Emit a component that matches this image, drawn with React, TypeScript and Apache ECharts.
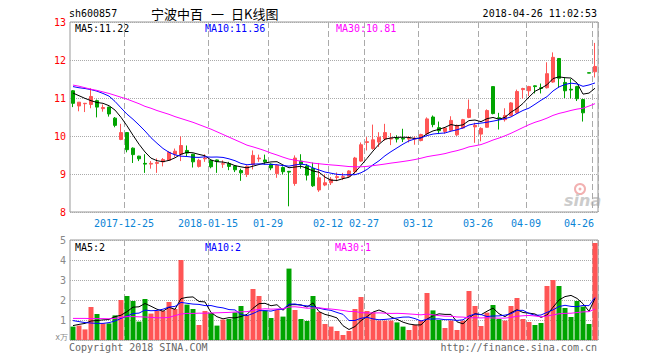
import React, { useEffect, useRef } from 'react';
import * as echarts from 'echarts';

const dates = [
  '2017-12-12','2017-12-13','2017-12-14','2017-12-15','2017-12-18','2017-12-19','2017-12-20','2017-12-21','2017-12-22','2017-12-25',
  '2017-12-26','2017-12-27','2017-12-28','2017-12-29','2018-01-02','2018-01-03','2018-01-04','2018-01-05','2018-01-08','2018-01-09',
  '2018-01-10','2018-01-11','2018-01-12','2018-01-15','2018-01-16','2018-01-17','2018-01-18','2018-01-19','2018-01-22','2018-01-23',
  '2018-01-24','2018-01-25','2018-01-26','2018-01-29','2018-01-30','2018-01-31','2018-02-01','2018-02-02','2018-02-05','2018-02-06',
  '2018-02-07','2018-02-08','2018-02-09','2018-02-12','2018-02-13','2018-02-14','2018-02-22','2018-02-23','2018-02-26','2018-02-27',
  '2018-02-28','2018-03-01','2018-03-02','2018-03-05','2018-03-06','2018-03-07','2018-03-08','2018-03-09','2018-03-12','2018-03-13',
  '2018-03-14','2018-03-15','2018-03-16','2018-03-19','2018-03-20','2018-03-21','2018-03-22','2018-03-23','2018-03-26','2018-03-27',
  '2018-03-28','2018-03-29','2018-03-30','2018-04-02','2018-04-03','2018-04-04','2018-04-09','2018-04-10','2018-04-11','2018-04-12',
  '2018-04-13','2018-04-16','2018-04-17','2018-04-18','2018-04-19','2018-04-20','2018-04-23','2018-04-26',
];

const opens = [
  11.19,10.79,10.85,10.83,10.93,10.72,10.76,10.47,9.91,10.09,
  9.68,9.47,9.28,9.26,9.28,9.32,9.36,9.52,9.52,9.62,
  9.52,9.20,9.40,9.36,9.37,9.26,9.27,9.21,9.09,8.99,
  9.25,9.40,9.37,9.26,9.01,9.17,9.07,8.75,9.34,9.21,
  9.15,8.58,8.71,8.77,8.91,8.91,8.94,9.06,9.34,9.83,
  9.67,9.84,9.92,9.92,9.94,9.94,9.92,9.92,9.88,10.06,
  10.50,10.22,10.12,10.15,10.03,10.21,10.49,10.24,10.05,10.23,
  11.30,10.48,10.43,10.54,10.61,11.22,11.19,11.32,11.27,11.27,
  11.42,12.04,11.41,11.23,11.30,10.96,11.665,11.69,
];
const closes = [
  10.86,10.89,10.86,11.04,10.76,10.75,10.58,10.28,10.09,9.64,
  9.51,9.40,9.26,9.28,9.30,9.38,9.57,9.60,9.75,9.55,
  9.32,9.36,9.42,9.19,9.33,9.27,9.20,9.11,9.03,9.20,
  9.49,9.42,9.32,9.16,9.23,9.06,9.05,9.42,9.26,8.97,
  8.69,8.90,8.77,8.86,8.93,8.93,9.08,9.42,9.77,9.85,
  9.90,9.97,10.09,9.94,9.92,9.92,9.94,9.94,10.04,10.45,
  10.30,10.14,10.21,10.41,10.28,10.43,10.70,10.28,10.20,10.67,
  10.59,10.46,10.54,10.87,11.17,11.25,11.30,11.30,11.25,11.64,
  12.07,11.52,11.19,11.21,10.98,10.61,11.655,11.83,
];
const lows = [
  10.76,10.65,10.63,10.73,10.49,10.64,10.51,10.23,9.89,9.57,
  9.29,9.34,9.03,9.14,9.03,9.20,9.35,9.45,9.34,9.45,
  9.17,9.17,9.32,9.15,9.03,9.16,9.10,9.05,8.82,8.92,
  9.12,9.32,9.25,9.10,8.90,8.99,8.15,8.69,9.14,8.83,
  8.66,8.53,8.68,8.71,8.81,8.84,8.92,9.01,9.32,9.62,
  9.64,9.71,9.88,9.76,9.83,9.84,9.83,9.77,9.86,10.03,
  10.23,10.05,10.06,10.12,10.00,10.19,10.47,9.82,9.86,10.22,
  10.57,10.17,10.38,10.52,10.58,10.98,11.05,11.12,11.12,11.25,
  11.40,11.27,11.00,10.99,10.92,10.38,11.655,11.54,
];
const highs = [
  11.21,10.89,10.87,11.26,10.96,10.83,10.77,10.50,10.32,10.10,
  9.70,9.48,9.52,9.34,9.41,9.42,9.60,9.67,9.99,9.75,
  9.53,9.40,9.52,9.37,9.38,9.36,9.32,9.22,9.14,9.23,
  9.62,9.51,9.51,9.28,9.26,9.20,9.08,9.49,9.52,9.26,
  9.30,9.29,8.99,8.92,9.04,9.03,9.10,9.45,9.83,9.97,
  10.30,10.10,10.32,10.08,10.02,10.19,10.00,9.99,10.06,10.49,
  10.54,10.38,10.23,10.52,10.30,10.45,10.96,10.35,10.23,10.70,
  11.31,10.61,10.73,10.89,11.22,11.27,11.32,11.33,11.38,11.94,
  12.20,12.05,11.54,11.50,11.32,10.98,11.665,12.45,
];
// volume, in 万 lots
const volumes = [
  0.67,0.72,0.53,1.65,1.30,0.83,0.83,1.23,2.00,2.20,
  1.95,0.92,2.05,1.32,1.45,1.45,1.90,1.55,4.00,1.77,
  1.55,0.75,1.45,1.35,0.72,1.02,1.05,1.38,1.70,1.25,
  2.55,2.20,1.47,1.10,1.50,1.17,3.57,1.50,1.05,0.95,
  2.20,1.40,0.80,0.67,0.45,0.25,0.45,1.55,2.15,1.45,
  1.38,0.97,0.97,0.97,0.88,0.67,0.50,0.75,0.97,2.35,
  1.48,1.00,0.60,0.97,0.50,0.97,2.45,1.70,0.70,1.37,
  1.75,1.05,0.97,1.70,2.10,1.05,0.90,0.75,0.85,2.70,
  3.00,2.70,1.60,1.15,1.95,1.67,0.80,4.85,
];

// moving-average values at the left edge (their windows start before the chart)
const priceMa5Head = [11.13, 11.06, 10.99, 10.93];
const priceMa10Head = [11.30, 11.27, 11.25, 11.22, 11.18, 11.12, 11.05, 10.91, 10.74];
const priceMa30Head = [
  11.34,11.31,11.27,11.23,11.20,11.16,11.12,11.07,11.02,10.97,
  10.91,10.85,10.78,10.73,10.67,10.62,10.57,10.51,10.46,10.41,
  10.36,10.30,10.24,10.18,10.11,10.04,9.97,9.90,9.83,
];
const volMa5Head = [0.72, 0.78, 0.83, 0.95];
const volMa10Head = [0.97, 0.92, 0.87, 0.85, 0.83, 0.83, 0.87, 0.95, 1.08];
const volMa30Head = [
  1.08,1.08,1.08,1.07,1.07,1.07,1.06,1.08,1.13,1.17,
  1.17,1.16,1.15,1.13,1.11,1.11,1.13,1.22,1.30,1.33,
  1.33,1.34,1.34,1.35,1.36,1.37,1.38,1.40,1.41,
];

const tickDates = ['2017-12-25','2018-01-15','2018-01-29','2018-02-12','2018-02-27','2018-03-12','2018-03-26','2018-04-09','2018-04-26'];
const tickTexts = ['2017-12-25','2018-01-15','01-29','02-12','02-27','03-12','03-26','04-09','04-26'];

const priceMaLabels = ['MA5:11.22', 'MA10:11.36', 'MA30:10.81'];
const volMaLabels = ['MA5:2', 'MA10:2', 'MA30:1'];

const MONO = '"DejaVu Sans Mono", monospace';
const RED = '#ff5555';
const GREEN = '#00a400';
const MA_COLORS = ['#000000', '#0000ff', '#ff00ff'];

function movingAvg(values: number[], n: number, head: number[]) {
  return values.map((_, i) => {
    if (i < n - 1) return head[i];
    let s = 0;
    for (let k = i - n + 1; k <= i; k++) s += values[k];
    return +(s / n).toFixed(3);
  });
}

export default function App() {
  const ref = useRef<HTMLDivElement>(null);
  useEffect(() => {
    const chart = echarts.init(ref.current as HTMLDivElement, undefined, { renderer: 'svg', width: 660, height: 360 });
    const labelIdx = tickDates.map((d) => dates.indexOf(d));
    const isTick = (i: number) => labelIdx.indexOf(i) >= 0;
    const last = dates.length - 1;

    const pMa = [movingAvg(closes, 5, priceMa5Head), movingAvg(closes, 10, priceMa10Head), movingAvg(closes, 30, priceMa30Head)];
    const vMa = [movingAvg(volumes, 5, volMa5Head), movingAvg(volumes, 10, volMa10Head), movingAvg(volumes, 30, volMa30Head)];

    const splitDash = { show: true, interval: (i: number) => isTick(i), lineStyle: { color: '#aaaaaa', type: [6, 3] as any, width: 1 } };
    const txt = (text: string, x: number, y: number, fill: string, extra: any = {}) => ({
      type: 'text', x, y, silent: true,
      style: { text, fill, fontFamily: MONO, fontSize: 10, verticalAlign: 'middle', ...extra },
    });

    chart.setOption({
      animation: false,
      backgroundColor: '#ffffff',
      grid: [
        { left: 70, top: 22, width: 528, height: 190, show: true, borderColor: '#999999', borderWidth: 1 },
        { left: 70, top: 240, width: 528, height: 100, show: true, borderColor: '#999999', borderWidth: 1 },
      ],
      xAxis: [
        {
          type: 'category', gridIndex: 0, data: dates, boundaryGap: true,
          axisLine: { show: false }, axisTick: { show: false },
          axisLabel: {
            interval: (i: number) => isTick(i),
            margin: 6,
            color: '#0a84d6', fontFamily: MONO, fontSize: 10,
            formatter: (val: string, idx: number) => {
              const t = tickTexts[tickDates.indexOf(val)];
              return idx === last ? `{e|${t}}` : `{n|${t}}`;
            },
            rich: {
              n: { padding: [0, 6, 0, 0], color: '#0a84d6', fontFamily: MONO, fontSize: 10 },
              e: { padding: [0, 32, 0, 0], color: '#0a84d6', fontFamily: MONO, fontSize: 10 },
            },
          },
          splitLine: splitDash,
        },
        {
          type: 'category', gridIndex: 1, data: dates, boundaryGap: true,
          axisLine: { show: false }, axisTick: { show: false }, axisLabel: { show: false },
          splitLine: splitDash,
        },
      ],
      yAxis: [
        {
          type: 'value', gridIndex: 0, min: 8, max: 13, interval: 1,
          axisLine: { show: false }, axisTick: { show: false },
          axisLabel: { color: '#ff0000', fontFamily: MONO, fontSize: 10, margin: 4 },
          splitLine: { show: true, lineStyle: { color: '#aaaaaa', type: 'dotted', width: 1 } },
        },
        {
          type: 'value', gridIndex: 1, min: 0, max: 5, interval: 1,
          axisLine: { show: false }, axisTick: { show: false },
          axisLabel: { color: '#888888', fontFamily: MONO, fontSize: 10, margin: 4, formatter: (v: number) => (v === 0 ? '' : String(v)) },
          splitLine: { show: true, lineStyle: { color: '#aaaaaa', type: 'dotted', width: 1 } },
        },
      ],
      series: [
        {
          type: 'candlestick', xAxisIndex: 0, yAxisIndex: 0, barWidth: 4,
          data: dates.map((_, i) => [opens[i], closes[i], lows[i], highs[i]]),
          itemStyle: { color: RED, color0: GREEN, borderColor: RED, borderColor0: GREEN, borderWidth: 1 },
        },
        ...pMa.map((d, k) => ({
          type: 'line', xAxisIndex: 0, yAxisIndex: 0, data: d, symbol: 'none', silent: true,
          lineStyle: { color: MA_COLORS[k], width: 1 },
        })),
        {
          type: 'bar', xAxisIndex: 1, yAxisIndex: 1, barWidth: 5,
          data: volumes.map((v, i) => ({ value: v, itemStyle: { color: closes[i] > opens[i] ? RED : GREEN } })),
        },
        ...vMa.map((d, k) => ({
          type: 'line', xAxisIndex: 1, yAxisIndex: 1, data: d, symbol: 'none', silent: true,
          lineStyle: { color: MA_COLORS[k], width: 1 },
        })),
      ],
      graphic: [
        txt('sh600857', 69, 13, '#000000'),
        { type: 'text', x: 151, y: 13, silent: true, style: { text: '宁波中百', fill: '#000', fontFamily: '"Noto Sans CJK SC"', fontSize: 13, verticalAlign: 'middle' } },
        { type: 'text', x: 211, y: 13, silent: true, style: { text: '一', fill: '#000', fontFamily: '"Noto Sans CJK SC"', fontSize: 13, verticalAlign: 'middle' } },
        { type: 'text', x: 231, y: 13, silent: true, style: { text: '日K线图', fill: '#000', fontFamily: '"Noto Sans CJK SC"', fontSize: 13, verticalAlign: 'middle' } },
        txt('2018-04-26 11:02:53', 597, 13, '#000000', { align: 'right' }),
        txt(priceMaLabels[0], 75, 28, MA_COLORS[0]),
        txt(priceMaLabels[1], 205, 28, MA_COLORS[1]),
        txt(priceMaLabels[2], 336, 28, MA_COLORS[2]),
        txt(volMaLabels[0], 75, 247, MA_COLORS[0]),
        txt(volMaLabels[1], 205, 247, MA_COLORS[1]),
        txt(volMaLabels[2], 335, 247, MA_COLORS[2]),
        txt('x万', 68, 337, '#888888', { fontSize: 8, align: 'right' }),
        txt('Copyright 2018 SINA.COM', 69, 347, '#666666'),
        txt('http://finance.sina.com.cn', 597, 347, '#666666', { align: 'right' }),
        { type: 'circle', silent: true, z: -1, shape: { cx: 580, cy: 189, r: 5 }, style: { fill: 'none', stroke: '#f2b0b0', lineWidth: 2 } },
        { type: 'circle', silent: true, z: -1, shape: { cx: 580, cy: 189, r: 1.5 }, style: { fill: '#f2b0b0' } },
        { type: 'text', x: 564, y: 200, silent: true, z: -1, style: { text: 'sina', fill: '#cccccc', fontFamily: '"DejaVu Sans"', fontSize: 16, fontWeight: 'bold', fontStyle: 'italic', verticalAlign: 'middle' } },
      ],
    });
    return () => chart.dispose();
  }, []);
  return <div ref={ref} style={{ position: 'fixed', left: 0, top: 0, width: 660, height: 360, background: '#fff' }} />;
}
